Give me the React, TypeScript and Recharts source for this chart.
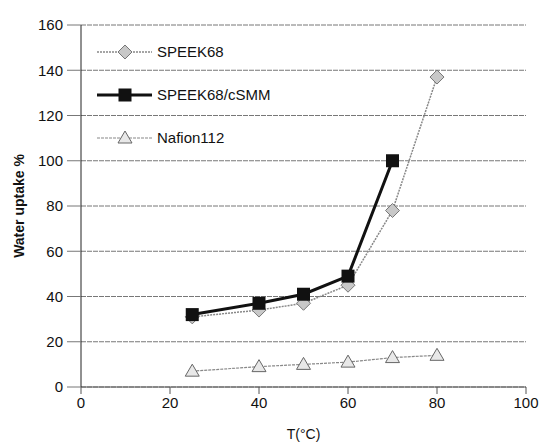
import React from 'react';
import { LineChart, Line, XAxis, YAxis, CartesianGrid } from 'recharts';

const temps = [25, 40, 50, 60, 70, 80];
const speek68 = [31, 34, 37, 45, 78, 137];
const speekCsmm = [32, 37, 41, 49, 100, null];
const nafion112 = [7, 9, 10, 11, 13, 14];
const xTicks = [0, 20, 40, 60, 80, 100];
const yTicks = [0, 20, 40, 60, 80, 100, 120, 140, 160];

const data = temps.map((t, i) => ({
  t,
  speek: speek68[i],
  csmm: speekCsmm[i],
  nafion: nafion112[i],
}));

const Diamond = (props: any) => {
  const { cx, cy } = props;
  if (cx == null || cy == null) return null;
  return (
    <path
      d={`M${cx},${cy - 7} L${cx + 7},${cy} L${cx},${cy + 7} L${cx - 7},${cy} Z`}
      fill="#c8c8c8"
      stroke="#777"
      strokeWidth={1}
    />
  );
};

const Square = (props: any) => {
  const { cx, cy } = props;
  if (cx == null || cy == null) return null;
  return <rect x={cx - 6.5} y={cy - 6.5} width={13} height={13} fill="#111" />;
};

const Triangle = (props: any) => {
  const { cx, cy } = props;
  if (cx == null || cy == null) return null;
  return (
    <path
      d={`M${cx},${cy - 7} L${cx + 7},${cy + 5} L${cx - 7},${cy + 5} Z`}
      fill="#e8e8e8"
      stroke="#666"
      strokeWidth={1}
    />
  );
};

const legendItems = [
  { name: 'SPEEK68', color: '#888', width: 1.5, dash: '2 1', Marker: Diamond },
  { name: 'SPEEK68/cSMM', color: '#111', width: 3, dash: undefined, Marker: Square },
  { name: 'Nafion112', color: '#888', width: 1.2, dash: '3 1', Marker: Triangle },
];

const LegendBox = () => (
  <svg width={200} height={110} style={{ position: 'absolute', left: 95, top: 40 }}>
    {legendItems.map((it, i) => {
      const y = 12 + i * 43;
      return (
        <g key={it.name}>
          <line x1={2} x2={57} y1={y} y2={y} stroke={it.color} strokeWidth={it.width} strokeDasharray={it.dash} />
          <it.Marker cx={30} cy={y} />
          <text x={62} y={y + 5} fontSize={15} fontFamily="Liberation Sans, Arial, sans-serif" fill="#111">
            {it.name}
          </text>
        </g>
      );
    })}
  </svg>
);

export default function App() {
  return (
    <div style={{ position: 'absolute', left: 0, top: 0, width: 543, height: 448, background: '#fff' }}>
      <LineChart
        width={543}
        height={448}
        data={data}
        margin={{ top: 25, right: 17, bottom: 31, left: 41 }}
        style={{ fontFamily: 'Liberation Sans, Arial, sans-serif' }}
      >
        <CartesianGrid vertical={false} stroke="#777" strokeDasharray="5 1" />
        <XAxis
          dataKey="t"
          type="number"
          domain={[0, 100]}
          ticks={xTicks}
          tickSize={7}
          tickMargin={3}
          height={30}
          stroke="#555"
          tick={{ fill: '#111', fontSize: 15 }}
          label={{ value: 'T(°C)', position: 'insideBottom', offset: -22, fill: '#111', fontSize: 14 }}
        />
        <YAxis
          type="number"
          domain={[0, 160]}
          ticks={yTicks}
          width={40}
          tickSize={14}
          tickMargin={4}
          stroke="#222"
          tickLine={{ stroke: '#777' }}
          tick={{ fill: '#111', fontSize: 15 }}
          label={{
            value: 'Water uptake %',
            angle: -90,
            position: 'insideLeft',
            offset: -22,
            fill: '#111',
            fontSize: 14,
            fontWeight: 'bold',
            style: { textAnchor: 'middle' },
          }}
        />
        <Line
          dataKey="speek"
          name="SPEEK68"
          stroke="#888"
          strokeWidth={1.5}
          strokeDasharray="2 1"
          dot={<Diamond />}
          isAnimationActive={false}
        />
        <Line
          dataKey="nafion"
          name="Nafion112"
          stroke="#888"
          strokeWidth={1.2}
          strokeDasharray="3 1"
          dot={<Triangle />}
          isAnimationActive={false}
        />
        <Line
          dataKey="csmm"
          name="SPEEK68/cSMM"
          stroke="#111"
          strokeWidth={3}
          dot={<Square />}
          isAnimationActive={false}
        />
      </LineChart>
      <LegendBox />
    </div>
  );
}
